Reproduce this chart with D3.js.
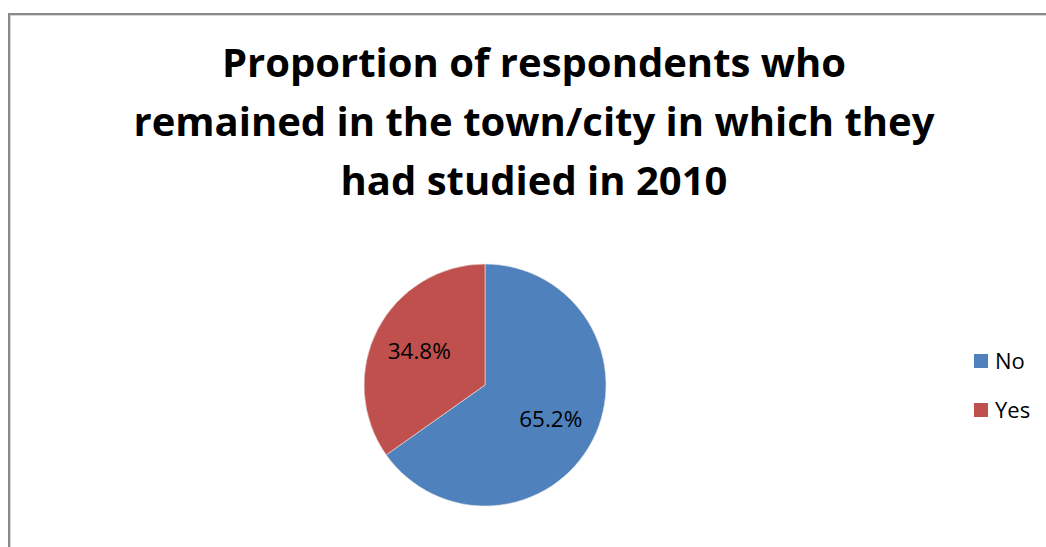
<!DOCTYPE html>
<html>
<head>
<meta charset="utf-8">
<script src="https://cdn.jsdelivr.net/npm/d3@7"></script>
<style>
  html, body { margin: 0; padding: 0; background: #fff; }
  svg { display: block; }
  text { font-family: "Open Sans", Lato, sans-serif; fill: #000; }
</style>
</head>
<body>
<svg id="chart" width="1046" height="547"></svg>
<script>
// Survey answers: did the respondent stay in the town/city of study?
const categories = ["No", "Yes"];
const shares = [65.2, 34.8];
const colors = ["#4f81bd", "#c0504d"];
const titleLines = [
  "Proportion of respondents who",
  "remained in the town/city in which they",
  "had studied in 2010"
];

const svg = d3.select("#chart");
const W = 1046, H = 547;

// chart frame (runs past the right and bottom edges)
svg.append("rect")
  .attr("x", 9).attr("y", 14)
  .attr("width", W + 20).attr("height", H + 20)
  .attr("fill", "#fff")
  .attr("stroke", "#8a8a8a").attr("stroke-width", 2);
svg.append("rect")
  .attr("x", 10.5).attr("y", 15.5)
  .attr("width", W + 20).attr("height", H + 20)
  .attr("fill", "none")
  .attr("stroke", "#d6d6d6").attr("stroke-width", 1);

// title
const title = svg.append("g").attr("transform", "translate(534,0)");
title.selectAll("text")
  .data(titleLines)
  .join("text")
  .attr("x", 0)
  .attr("y", (d, i) => 77 + i * 59)
  .attr("text-anchor", "middle")
  .attr("font-weight", 700)
  .attr("font-size", 40)
  .text(d => d);

// pie
const cx = 485, cy = 385, R = 121;
const color = d3.scaleOrdinal().domain(categories).range(colors);
const data = categories.map((c, i) => ({ cat: c, value: shares[i] }));
const pie = d3.pie().value(d => d.value).sort(null);
const arcs = pie(data);
const arc = d3.arc().innerRadius(0).outerRadius(R);
const labelArc = d3.arc().innerRadius(74).outerRadius(74);

const g = svg.append("g").attr("transform", `translate(${cx},${cy})`);
g.selectAll("path")
  .data(arcs)
  .join("path")
  .attr("d", arc)
  .attr("fill", d => color(d.data.cat))
  .attr("stroke", "#e8e8e8")
  .attr("stroke-width", 0.6);

g.selectAll("text")
  .data(arcs)
  .join("text")
  .attr("transform", d => `translate(${labelArc.centroid(d)})`)
  .attr("text-anchor", "middle")
  .attr("dy", "0.36em")
  .attr("font-size", 22.5)
  .text(d => d3.format(".1f")(d.data.value) + "%");

// legend
const legend = svg.append("g").attr("transform", "translate(974,354)");
const item = legend.selectAll("g")
  .data(categories)
  .join("g")
  .attr("transform", (d, i) => `translate(0,${i * 49})`);
item.append("rect")
  .attr("width", 14).attr("height", 14)
  .attr("fill", d => color(d));
item.append("text")
  .attr("x", 21)
  .attr("y", 15)
  .attr("font-size", 22)
  .text(d => d);
</script>
</body>
</html>
